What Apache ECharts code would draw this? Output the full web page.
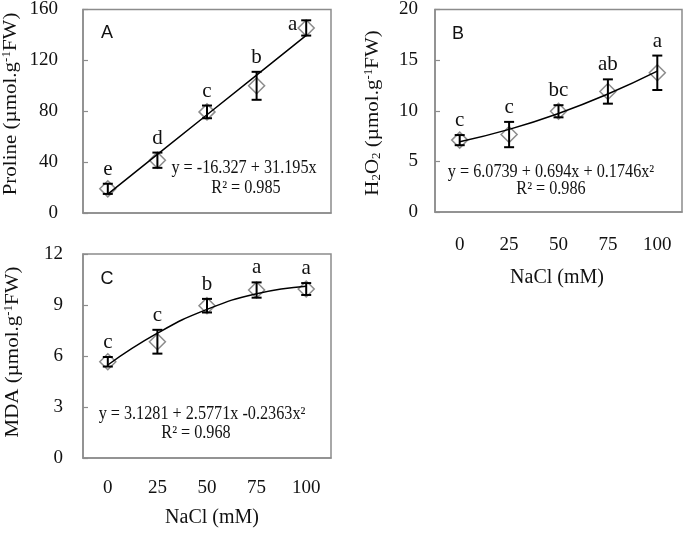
<!DOCTYPE html>
<html>
<head>
<meta charset="utf-8">
<script src="https://cdn.jsdelivr.net/npm/echarts@6/dist/echarts.min.js"></script>
<style>html,body{margin:0;padding:0;background:#fff}#c{width:685px;height:537px}</style>
</head>
<body>
<div id="c"></div>
<script>
// ---- data ----
const categories = ['0', '25', '50', '75', '100'];

const prolineMean = [19, 41.5, 79.5, 100, 145.5];
const prolineErr = [4, 6, 5, 11, 6];
const prolineTrend = [14.87, 46.06, 77.26, 108.45, 139.65];
const prolineLetters = ['e', 'd', 'c', 'b', 'a'];

const h2o2Mean = [7.1, 7.65, 9.95, 11.9, 13.75];
const h2o2Err = [0.5, 1.25, 0.6, 1.2, 1.7];
const h2o2Trend = [6.94, 8.16, 9.73, 11.65, 13.91];
const h2o2Letters = ['c', 'c', 'bc', 'ab', 'a'];

const mdaMean = [5.66, 6.84, 8.96, 9.88, 9.94];
const mdaErr = [0.28, 0.7, 0.4, 0.45, 0.35];
const mdaTrend = [5.47, 7.34, 8.74, 9.66, 10.10];
const mdaLetters = ['c', 'c', 'b', 'a', 'a'];

const yTicksA = [0, 160, 40];
const yTicksB = [0, 20, 5];
const yTicksC = [0, 12, 3];

// ---- styles ----
const SERIF = "'Liberation Serif', 'Times New Roman', serif";
const SANS = "'Liberation Sans', Arial, sans-serif";
const AX = '#8c8c8c';
const TXT = '#111';

const grids = [
  { left: 83, top: 9, width: 248, height: 204 },
  { left: 435, top: 9, width: 247, height: 203 },
  { left: 83, top: 254, width: 248, height: 204 }
];

function xAxisFor(gi, showLabels, margin) {
  return {
    type: 'category', gridIndex: gi, data: categories, boundaryGap: true,
    axisLine: { lineStyle: { color: AX, width: 1.5 } },
    axisTick: { inside: true, length: 5, lineStyle: { color: AX, width: 1.2 } },
    axisLabel: { show: showLabels, margin: margin, fontFamily: SERIF, fontSize: 19, color: TXT },
    splitLine: { show: false }
  };
}
function yAxisFor(gi, ticks, margin) {
  return {
    type: 'value', gridIndex: gi, min: ticks[0], max: ticks[1], interval: ticks[2],
    axisLine: { show: true, lineStyle: { color: AX, width: 1.5 } },
    axisTick: { show: true, inside: true, length: 5, lineStyle: { color: AX, width: 1.2 } },
    axisLabel: { margin: margin, fontFamily: SERIF, fontSize: 19, color: TXT },
    splitLine: { show: false }
  };
}

function errSeries(gi, means, errs, letters) {
  const gTop = grids[gi].top;
  return {
    type: 'custom', xAxisIndex: gi, yAxisIndex: gi, z: 5,
    data: means.map((m, i) => [i, m, errs[i]]),
    renderItem: function (params, api) {
      const i = api.value(0), m = api.value(1), e = api.value(2);
      const t = api.coord([i, m + e]);
      const b = api.coord([i, m - e]);
      const x = t[0], cw = 5;
      const ls = { stroke: '#000', lineWidth: 2 };
      const letter = letters[params.dataIndex];
      let txt;
      if (t[1] - 22 < gTop) {
        txt = { type: 'text', x: x - 9, y: t[1] + 4, style: { text: letter, font: '21px ' + SERIF, fill: TXT, align: 'right', verticalAlign: 'middle' } };
      } else {
        txt = { type: 'text', x: x, y: t[1] - 4, style: { text: letter, font: '21px ' + SERIF, fill: TXT, align: 'center', verticalAlign: 'bottom' } };
      }
      return {
        type: 'group', children: [
          { type: 'line', shape: { x1: x, y1: t[1], x2: x, y2: b[1] }, style: ls },
          { type: 'line', shape: { x1: x - cw, y1: t[1], x2: x + cw, y2: t[1] }, style: ls },
          { type: 'line', shape: { x1: x - cw, y1: b[1], x2: x + cw, y2: b[1] }, style: ls },
          txt
        ]
      };
    }
  };
}
function pointSeries(gi, means) {
  return {
    type: 'scatter', xAxisIndex: gi, yAxisIndex: gi, data: means, z: 3,
    symbol: 'diamond', symbolSize: [16, 16],
    itemStyle: { color: 'rgba(255,255,255,0)', borderColor: '#6e6e6e', borderWidth: 1.5 },
    emphasis: { disabled: true }
  };
}
function trendSeries(gi, vals, smooth) {
  return {
    type: 'line', xAxisIndex: gi, yAxisIndex: gi, data: vals, smooth: smooth, z: 4,
    symbol: 'none', lineStyle: { color: '#000', width: 1.5 }
  };
}

function label(x, y, text, font, extra) {
  return Object.assign({
    type: 'text', x: x, y: y,
    style: { text: text, font: font, fill: TXT, align: 'center', verticalAlign: 'middle' }
  }, extra || {});
}
function yName(x, y, rich) {
  return {
    type: 'text', x: x, y: y, rotation: Math.PI / 2, scaleY: 0.9,
    style: {
      text: rich, align: 'center', verticalAlign: 'middle', fill: TXT,
      rich: {
        a: { fontFamily: SERIF, fontSize: 21, fill: TXT },
        s: { fontFamily: SERIF, fontSize: 13, fill: TXT, verticalAlign: 'top' },
        b: { fontFamily: SERIF, fontSize: 13, fill: TXT, verticalAlign: 'bottom' }
      }
    }
  };
}

const eqFont = '18px ' + SERIF;
const chart = echarts.init(document.getElementById('c'), null, { renderer: 'canvas' });
chart.setOption({
  animation: false,
  backgroundColor: '#fff',
  grid: grids.map(g => Object.assign({ show: true, borderColor: AX, borderWidth: 1.5, backgroundColor: 'transparent' }, g)),
  xAxis: [xAxisFor(0, false, 20), xAxisFor(1, true, 24), xAxisFor(2, true, 21)],
  yAxis: [yAxisFor(0, yTicksA, 25), yAxisFor(1, yTicksB, 17), yAxisFor(2, yTicksC, 20)],
  series: [
    pointSeries(0, prolineMean), trendSeries(0, prolineTrend, false), errSeries(0, prolineMean, prolineErr, prolineLetters),
    pointSeries(1, h2o2Mean), trendSeries(1, h2o2Trend, true), errSeries(1, h2o2Mean, h2o2Err, h2o2Letters),
    pointSeries(2, mdaMean), trendSeries(2, mdaTrend, true), errSeries(2, mdaMean, mdaErr, mdaLetters)
  ],
  graphic: [
    label(107, 33, 'A', '18px ' + SANS),
    label(458, 34, 'B', '18px ' + SANS),
    label(107, 279, 'C', '18px ' + SANS),
    label(244, 168, 'y = -16.327 + 31.195x', eqFont, { scaleX: 0.9 }),
    label(246, 188, 'R² = 0.985', eqFont, { scaleX: 0.9 }),
    label(551, 172, 'y = 6.0739 + 0.694x + 0.1746x²', eqFont, { scaleX: 0.9 }),
    label(551, 189, 'R² = 0.986', eqFont, { scaleX: 0.9 }),
    label(202, 414, 'y = 3.1281 + 2.5771x -0.2363x²', eqFont, { scaleX: 0.9 }),
    label(196, 433, 'R² = 0.968', eqFont, { scaleX: 0.9 }),
    label(557, 278, 'NaCl (mM)', '20px ' + SERIF),
    label(212, 518, 'NaCl (mM)', '20px ' + SERIF),
    yName(11, 104, '{a|Proline (µmol.g}{s|-1}{a|FW)}'),
    yName(373, 113, '{a|H}{b|2}{a|O}{b|2}{a| (µmol.g}{s|-1}{a|FW)}'),
    yName(13, 352, '{a|MDA (µmol.g}{s|-1}{a|FW)}')
  ]
});
</script>
</body>
</html>
